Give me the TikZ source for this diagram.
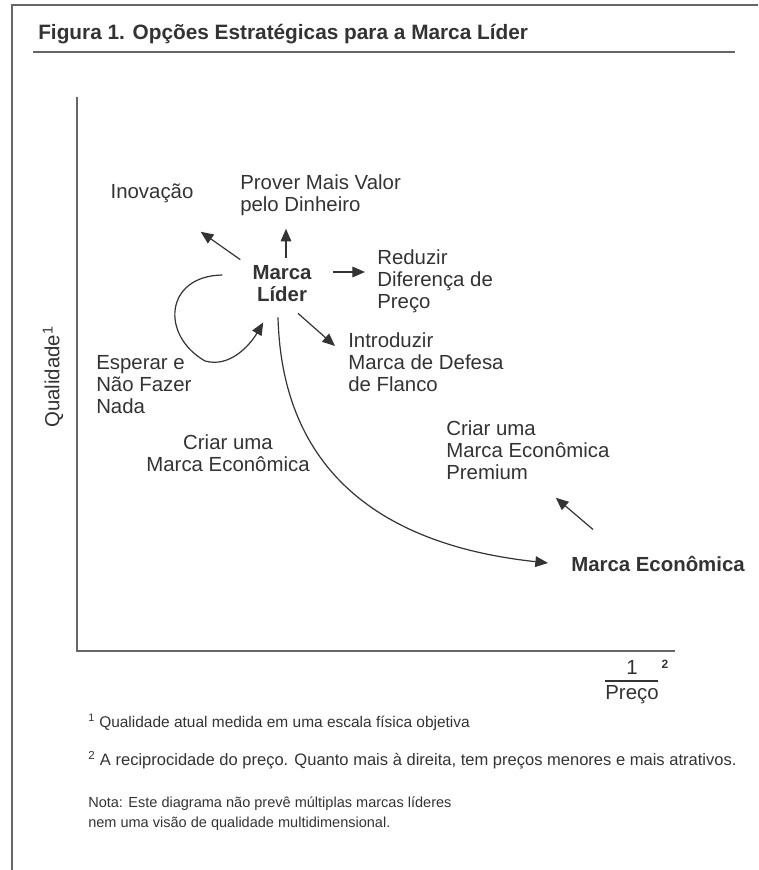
\documentclass[tikz,border=0pt]{standalone}
\usepackage{fontspec}
\setmainfont{Liberation Sans}
\usetikzlibrary{arrows.meta}
\definecolor{ink}{HTML}{333333}
\definecolor{axisgray}{HTML}{666666}
\begin{document}
\begin{tikzpicture}[x=0.75pt,y=-0.75pt,
  lbl/.style={inner sep=0pt, text=ink, font=\fontsize{15.3}{16.5}\selectfont, align=left},
  blbl/.style={lbl, font=\fontsize{15.3}{16.5}\selectfont\bfseries},
  note/.style={inner sep=0pt, text=ink, font=\fontsize{11.6}{15}\selectfont, align=left},
  arr/.style={draw=ink, line width=0.9pt, -{Triangle[length=9.5pt,width=8pt]}},
  axisline/.style={draw=axisgray, line width=1.5pt},
  frameline/.style={draw=axisgray, line width=1.5pt}]
\useasboundingbox (0,0) rectangle (758,870);
% frame
\draw[frameline] (12,870) -- (12,5) -- (758,5);
% title
\node[blbl, anchor=base west, font=\fontsize{15.6}{18}\selectfont\bfseries] (title) at (38,40) {Figura 1. Opções Estratégicas para a Marca Líder};
\draw[frameline] (33,52) -- (735,52);
% axes
\coordinate (origin) at (77,651);
\draw[axisline] (77,97) -- (origin) -- (675,651);
\node[lbl, rotate=90] (qual) at (53,377) {Qualidade\textsuperscript{1}};
\node[lbl] (one) at (632,667) {1};
\node[lbl, font=\fontsize{9}{10}\selectfont\bfseries] (sup2) at (665,664) {2};
\draw[draw=ink, line width=0.9pt] (605,681) -- (658,681);
\node[lbl] (preco) at (632,695) {Preço};
% nodes
\node[blbl, align=center] (lider) at (282,284) {Marca\\Líder};
\node[lbl] (inov) at (152,193) {Inovação};
\node[lbl, anchor=west] (prover) at (240,195) {Prover Mais Valor\\pelo Dinheiro};
\node[lbl, anchor=west] (reduzir) at (377,281) {Reduzir\\Diferença de\\Preço};
\node[lbl, anchor=west] (introd) at (348,362) {Introduzir\\Marca de Defesa\\de Flanco};
\node[lbl, anchor=west] (esperar) at (96,385) {Esperar e\\Não Fazer\\Nada};
\node[lbl, align=center] (criar) at (228,453) {Criar uma\\Marca Econômica};
\node[lbl, anchor=west] (premium) at (446,450) {Criar uma\\Marca Econômica\\Premium};
\node[blbl, anchor=base west] (econ) at (571,571) {Marca Econômica};
% arrows
\draw[arr] ([shift={(-12,-6)}]lider.north west) -- ([shift={(7,29)}]inov.south east);
\draw[arr] ([shift={(4,-8)}]lider.north) -- ([shift={(46,13)}]prover.south west);
\draw[arr] ([shift={(21,-12)}]lider.east) -- ([shift={(-12,-9)}]reduzir.west);
\draw[arr] ([shift={(16,11)}]lider.south) -- ([shift={(-13,-16)}]introd.west);
\draw[arr] ([shift={(-30,-9)}]lider.west) .. controls (165,276) and (160,335) .. (205,361) .. controls (230,368) and (250,345) .. ([shift={(11,20)}]lider.south west);
\draw[arr] ([shift={(-4,15)}]lider.south) .. controls (282,470) and (380,545) .. ([shift={(-23,-8)}]econ.base west);
\draw[arr] ([shift={(22,-26)}]econ.north west) -- ([shift={(-54,18)}]premium.south east);
% notes
\node[note, anchor=base west] (fn1) at (88,727) {\textsuperscript{1} Qualidade atual medida em uma escala física objetiva};
\node[note, anchor=base west, font=\fontsize{12.4}{15}\selectfont] (fn2) at (88,765) {\textsuperscript{2} A reciprocidade do preço. Quanto mais à direita, tem preços menores e mais atrativos.};
\node[note, anchor=north west, font=\fontsize{10.9}{15}\selectfont] (nota) at (88,797) {Nota: Este diagrama não prevê múltiplas marcas líderes\\nem uma visão de qualidade multidimensional.};
\end{tikzpicture}
\end{document}
